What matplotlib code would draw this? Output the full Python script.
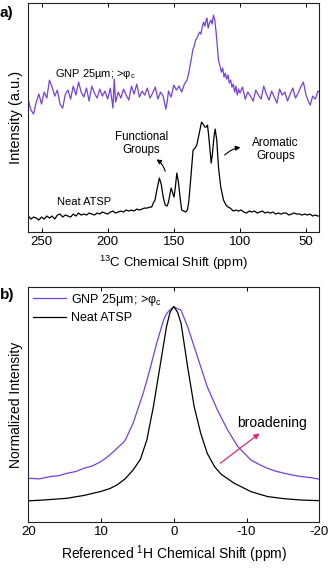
import numpy as np
import matplotlib
matplotlib.use('Agg')
import matplotlib.pyplot as plt

plt.rcParams['font.family'] = ['Liberation Sans', 'DejaVu Sans']
plt.rcParams['mathtext.default'] = 'regular'

# panel a: 13C spectra (intensity in arbitrary units)
atsp_ppm = [260, 258, 256, 254, 252, 250, 248, 246, 244, 242, 240, 238, 236, 234, 232, 230,
            228, 226, 224, 222, 220, 218, 216, 214, 212, 210, 208, 206, 204, 202, 200, 198,
            196, 194, 192, 190, 188, 186, 184, 182, 180, 178, 176, 174, 172, 170, 168, 166.7,
            165.5, 164.2, 162.5, 160.9, 159.5, 158, 156.5, 155, 154, 153, 152, 151, 149.8,
            148.8, 147.7, 146.5, 145, 144, 142.5, 141, 139.7, 138.7, 137.7, 136.5, 135.4,
            133.9, 132.6, 131.5, 130.3, 129, 127.8, 126.5, 125.5, 124.5, 123.5, 122.5, 121.7,
            120.8, 119.6, 118.7, 117.5, 116.2, 114.5, 112.4, 110.5, 109, 107.4, 105, 103, 101,
            99, 97, 95, 93, 91, 89, 87, 85, 83, 81, 79, 77, 75, 73, 71, 69, 67, 65, 63, 61, 59,
            57, 55, 53, 51, 49, 47, 45, 43, 41, 40]
atsp_int = [16, 13, 15, 14, 12, 15, 13, 16, 14, 16, 13, 17, 18, 15, 17, 16,
            15, 18, 16, 19, 17, 18, 17, 19, 18, 17, 19, 18, 20, 19, 18, 20,
            21, 19, 20, 21, 20, 22, 21, 22, 21, 23, 22, 23, 24, 24, 25, 25,
            29, 32, 44, 54, 48, 35, 27, 26, 30, 37, 44, 40, 35,
            45, 59, 50, 32, 22, 21, 20, 22, 30, 45, 65, 82,
            84, 87, 94, 102, 110, 108, 105, 105, 107, 95, 80, 69,
            78, 95, 103, 92, 65, 45, 32, 27, 25, 24, 21, 22, 21,
            22, 20, 19, 21, 20, 21, 19, 20, 21, 19, 20, 19, 20, 18, 19, 18, 19, 19, 17, 18, 19,
            18, 18, 17, 18, 17, 18, 16, 17, 16, 16]

gnp_ppm = [260, 258, 256, 254, 252, 250, 248, 246, 244, 242, 240, 238, 236, 234, 232, 230,
           228, 226, 224, 222, 220, 218, 216, 214, 212, 210, 208, 206, 204, 202, 200, 198,
           196, 195, 194, 192, 190, 188, 186, 184, 182, 180, 178, 176, 174, 172, 170, 168,
           166, 164, 162, 160, 158, 156, 155, 154, 152, 150, 148, 146, 144, 142, 140, 138.5,
           137.5, 136.5, 135.5, 134.5, 133.5, 132.5, 131.5, 130.5, 129.5, 128.5, 127.5, 126.5,
           125.5, 125, 124, 123, 122, 121, 120, 119, 118, 117, 116.2, 115, 114, 113, 112, 111,
           110, 109, 108, 107, 106, 105, 104, 103, 102, 101, 100, 98, 96, 94, 92, 90, 88, 86,
           84, 82, 80, 78, 76, 74, 72, 70, 68, 66, 64, 62, 60, 58, 56, 54, 52, 50, 48, 46.8,
           45, 43, 41, 40]
gnp_int = [132, 122, 118, 130, 138, 128, 140, 134, 152, 145, 136, 142, 128, 124, 138, 142,
           133, 146, 137, 150, 140, 135, 144, 131, 146, 139, 134, 143, 136, 141, 133, 144,
           124, 153, 130, 140, 134, 143, 137, 132, 146, 138, 148, 135, 141, 137, 144, 134,
           139, 145, 133, 140, 136, 123, 130, 141, 135, 147, 142, 146, 140, 148, 152, 160,
           168, 175, 183, 186, 192, 194, 197, 200, 198, 205, 210, 206,
           212, 214, 204, 209, 212, 208, 217, 212, 200, 185, 172, 166, 160, 164, 155, 159,
           153, 157, 149, 152, 145, 148, 140, 146, 137, 143, 139, 145, 133, 140, 136, 131, 142, 137,
           133, 146, 138, 132, 141, 135, 129, 143, 137, 140, 131, 138, 144, 134, 139, 145, 150, 137, 130, 127,
           136, 133, 141, 140]

# panel b: 1H spectra, normalized
h_ppm_atsp = [20, 17.5, 14.7, 12.4, 10.1, 8.8, 7.8, 6.7, 5.6, 4.6, 3.7, 2.8, 1.9, 1.0, 0.5,
              0, -0.5, -1.0, -1.9, -2.8, -3.7, -4.6, -5.6, -6.5, -8.3, -10.6, -12.9, -15.2,
              -17.5, -20]
h_int_atsp = [0.098, 0.103, 0.110, 0.123, 0.141, 0.155, 0.172, 0.200, 0.241, 0.290, 0.381,
              0.536, 0.721, 0.907, 0.975, 1.0, 0.975, 0.923, 0.721, 0.536, 0.412, 0.319,
              0.257, 0.222, 0.180, 0.141, 0.118, 0.108, 0.102, 0.099]

h_ppm_gnp = [20, 18.5, 17.0, 15.8, 14.7, 13.5, 12.4, 11.2, 10.1, 9.2, 8.3, 7.5, 6.9, 6.6,
             5.6, 4.2, 3.3, 2.35, 1.4, 0.96, 0.5, 0, -0.5, -0.96, -1.9, -2.8, -3.7, -4.6,
             -6.0, -7.4, -8.8, -10.6, -11.8, -12.9, -14.0, -15.2, -16.3, -17.5, -18.8, -20]
h_int_gnp = [0.203, 0.200, 0.211, 0.215, 0.226, 0.234, 0.249, 0.260, 0.279, 0.300, 0.326,
             0.352, 0.370, 0.385, 0.458, 0.598, 0.706, 0.830, 0.938, 0.969, 0.985, 1.0,
             0.990, 0.985, 0.907, 0.814, 0.721, 0.628, 0.520, 0.427, 0.350, 0.288, 0.266,
             0.249, 0.236, 0.226, 0.218, 0.211, 0.206, 0.199]

purple = '#7440e6'

fig = plt.figure(figsize=(3.31, 5.68), dpi=100)
ax1 = fig.add_axes([0.0855, 0.5915, 0.879, 0.403])
ax2 = fig.add_axes([0.0855, 0.081, 0.879, 0.414])

for ax in (ax1, ax2):
    ax.tick_params(axis='x', direction='in', top=True, length=3, width=0.7,
                   labelsize=9.5, pad=3)
    ax.tick_params(axis='y', left=False, labelleft=False)
    for s in ax.spines.values():
        s.set_linewidth(0.8)
        s.set_color('#222222')

# panel a
ax1.plot(gnp_ppm, gnp_int, color=purple, lw=0.9)
ax1.plot(atsp_ppm, atsp_int, color='black', lw=0.9)
ax1.set_xlim(260, 40)
ax1.set_ylim(0, 229)
ax1.set_xticks([250, 200, 150, 100, 50])
ax1.set_xlabel('$^{13}$C Chemical Shift (ppm)', fontsize=9.5, labelpad=4)
ax1.set_ylabel('Intensity (a.u.)', fontsize=10.5, labelpad=4)
ax1.text(240, 158, 'GNP 25µm; >φ$_c$', fontsize=8, ha='left', va='center')
ax1.text(238.5, 30, 'Neat ATSP', fontsize=8, ha='left', va='center')
ax1.text(174.5, 89, 'Functional\nGroups', fontsize=8.3, ha='center', va='center',
         linespacing=1.1)
ax1.text(73, 83, 'Aromatic\nGroups', fontsize=8.5, ha='center', va='center',
         linespacing=1.1)
ax1.annotate('', xy=(165, 74), xytext=(156, 58),
             arrowprops=dict(arrowstyle='-|>', color='black', lw=0.8,
                             mutation_scale=7, connectionstyle='arc3,rad=0.25'))
ax1.annotate('', xy=(97.5, 85), xytext=(113, 75),
             arrowprops=dict(arrowstyle='-|>', color='black', lw=0.8,
                             mutation_scale=7, connectionstyle='arc3,rad=-0.2'))
fig.text(0.0, 0.977, 'a)', fontsize=11, fontweight='bold', ha='left', va='center')

# panel b
ax2.plot(h_ppm_gnp, h_int_gnp, color=purple, lw=0.9, label='GNP 25µm; >φ$_c$')
ax2.plot(h_ppm_atsp, h_int_atsp, color='black', lw=0.9, label='Neat ATSP')
ax2.set_xlim(20, -20)
ax2.set_ylim(0, 1.0915)
ax2.set_xticks([20, 10, 0, -10, -20])
ax2.set_xticklabels(['20', '10', '0', '-10', '-20'])
ax2.set_xlabel('Referenced $^{1}$H Chemical Shift (ppm)', fontsize=10, labelpad=4)
ax2.set_ylabel('Normalized Intensity', fontsize=10, labelpad=4)
ax2.legend(loc='upper left', frameon=False, fontsize=9, handlelength=2.6,
           handletextpad=0.4, borderaxespad=0.1, borderpad=0.3, labelspacing=0.35)
ax2.text(-8.7, 0.461, 'broadening', fontsize=10, ha='left', va='center')
ax2.annotate('', xy=(-12.1, 0.419), xytext=(-6.1, 0.265),
             arrowprops=dict(arrowstyle='-|>', color='#e6286a', lw=0.9,
                             mutation_scale=8))
fig.text(0.0, 0.481, 'b)', fontsize=11, fontweight='bold', ha='left', va='center')

fig.savefig('out.png', dpi=100)
